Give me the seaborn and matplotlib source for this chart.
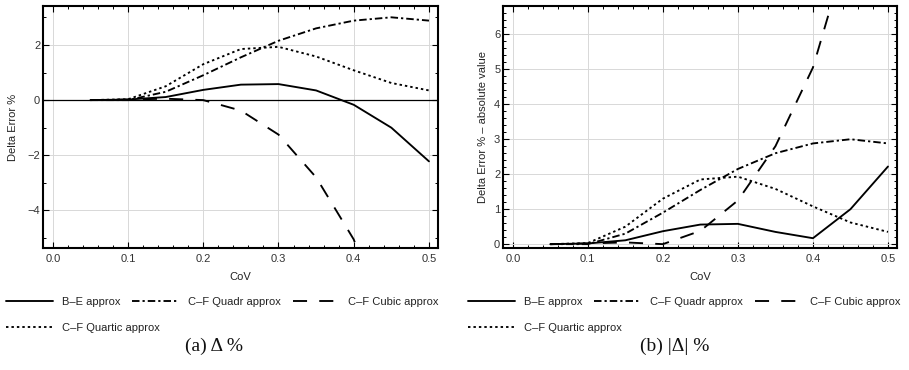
import numpy as np
import pandas as pd
import matplotlib
matplotlib.use("Agg")
import matplotlib.pyplot as plt
import seaborn as sns
from matplotlib.ticker import MultipleLocator
from matplotlib.lines import Line2D

sns.set_theme(style="white")
plt.rcParams['font.family'] = ['Liberation Sans', 'DejaVu Sans']

# ---- data ----
cov = [0.05, 0.10, 0.15, 0.20, 0.25, 0.30, 0.35, 0.40, 0.45, 0.50]
be_approx = [0.0, 0.02, 0.11, 0.37, 0.56, 0.58, 0.35, -0.17, -1.0, -2.22]
cf_quadr = [0.0, 0.0, 0.30, 0.90, 1.55, 2.15, 2.60, 2.88, 3.0, 2.88]
cf_cubic = [0.0, 0.02, 0.05, 0.0, -0.38, -1.25, -2.8, -5.05, -8.7, -13.5]
cf_quartic = [0.0, 0.03, 0.50, 1.30, 1.85, 1.93, 1.58, 1.08, 0.62, 0.35]

series_names = ["B\u2013E approx", "C\u2013F Quadr approx", "C\u2013F Cubic approx", "C\u2013F Quartic approx"]
xticks = [0.0, 0.1, 0.2, 0.3, 0.4, 0.5]
captions = ["(a) \u0394 %", "(b) |\u0394| %"]
ylabels = ["Delta Error %", "Delta Error % \u2013 absolute value"]
xlabel = "CoV"

values = [be_approx, cf_quadr, cf_cubic, cf_quartic]
styles = ["-", (0, (4, 1.6, 1.2, 1.6)), (0, (7.5, 6.5)), (0, (1.3, 1.6))]

rows = []
for name, vals in zip(series_names, values):
    for x, v in zip(cov, vals):
        rows.append({"CoV": x, "series": name, "signed": v, "abs": abs(v)})
df = pd.DataFrame(rows)

W, H = 909, 370
fig = plt.figure(figsize=(W / 100, H / 100), dpi=100)

ax_specs = [
    dict(rect=(43, 6, 395, 242), col="signed", ylim=(-5.36, 3.41), ymaj=2, ymin=1, zero=True,
         ylab_x=13, leg_x=6, cap_x=214),
    dict(rect=(503, 6, 394, 242), col="abs", ylim=(-0.11, 6.81), ymaj=1, ymin=0.2, zero=False,
         ylab_x=483, leg_x=468, cap_x=675),
]

lw = 1.35
for i, spec in enumerate(ax_specs):
    x0, y0, w, h = spec["rect"]
    ax = fig.add_axes([x0 / W, (H - y0 - h) / H, w / W, h / H])
    ax.grid(True, which="major", color="#d8d8d8", lw=0.7)
    ax.set_axisbelow(True)
    if spec["zero"]:
        ax.axhline(0, color="black", lw=0.9, zorder=1)
    for name, ls in zip(series_names, styles):
        sub = df[df["series"] == name]
        sns.lineplot(data=sub, x="CoV", y=spec["col"], ax=ax, color="black",
                     linestyle=ls, lw=lw, estimator=None, sort=False, zorder=3)
    ax.set_xlim(-0.013, 0.512)
    ax.set_ylim(*spec["ylim"])
    ax.set_xticks(xticks)
    ax.set_xticklabels([f"{t:.1f}" for t in xticks])
    ax.xaxis.set_minor_locator(MultipleLocator(0.02))
    ax.yaxis.set_major_locator(MultipleLocator(spec["ymaj"]))
    ax.yaxis.set_minor_locator(MultipleLocator(spec["ymin"]))
    ax.tick_params(which="both", direction="in", top=True, right=True, bottom=True, left=True,
                   color="black", labelsize=8, labelcolor="#333333")
    ax.tick_params(which="major", length=4.5, width=0.8)
    ax.tick_params(which="minor", length=2.5, width=0.7)
    ax.tick_params(axis="x", pad=4)
    ax.tick_params(axis="y", pad=2)
    for sp in ax.spines.values():
        sp.set_visible(True)
        sp.set_color("black")
        sp.set_linewidth(1.5)
    ax.set_xlabel("")
    ax.set_ylabel("")
    fig.text((x0 + w / 2) / W, (H - 277) / H, xlabel, ha="center", va="center",
             fontsize=8, color="#222222")
    fig.text(spec["ylab_x"] / W, (H - (y0 + h / 2)) / H, ylabels[i], rotation=90,
             ha="center", va="center", fontsize=8, color="#222222")
    if ax.get_legend() is not None:
        ax.get_legend().remove()

    handles = [Line2D([], [], color="black", lw=lw, linestyle=ls) for ls in styles]
    common = dict(frameon=False, fontsize=8, handlelength=4.2, handletextpad=0.8,
                  borderpad=0, borderaxespad=0, loc="center left", labelcolor="#222222")
    fig.legend(handles[:3], series_names[:3], ncol=3, columnspacing=1.1,
               bbox_to_anchor=(spec["leg_x"] / W, (H - 302) / H), **common)
    fig.legend(handles[3:], series_names[3:], ncol=1,
               bbox_to_anchor=(spec["leg_x"] / W, (H - 328) / H), **common)
    fig.text(spec["cap_x"] / W, (H - 346) / H, captions[i], ha="center", va="center",
             fontsize=14, family=["Liberation Serif", "DejaVu Serif"], color="#111111")

fig.savefig("out.png", dpi=100)
